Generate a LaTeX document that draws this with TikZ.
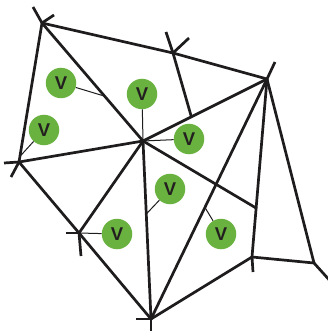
\documentclass[tikz,border=0pt]{standalone}
\usepackage{fontspec}
\setmainfont{Liberation Sans}
\usetikzlibrary{calc}
\definecolor{linec}{RGB}{30,28,29}
\definecolor{vgreen}{RGB}{106,178,64}
\definecolor{textc}{RGB}{35,31,32}
\begin{document}
\begin{tikzpicture}[x=1pt,y=-1pt,
  edge/.style={line width=2.7pt, draw=linec, line cap=round},
  stub/.style={line width=2.7pt, draw=linec, line cap=butt},
  conn/.style={line width=1pt, draw=linec},
  vnode/.style={circle, fill=vgreen, minimum size=30.5pt, inner sep=0pt,
    font=\bfseries\fontsize{18.5}{18.5}\selectfont, text=textc}]
\useasboundingbox (0,0) rectangle (328,331);
\clip (0,0) rectangle (328,331);
% vertices
\coordinate (A) at (42,23);
\coordinate (B) at (19,162);
\coordinate (C) at (143,141);
\coordinate (D) at (267,79);
\coordinate (E) at (173,53);
\coordinate (F) at ($(C)!0.39!(D)$);
\coordinate (G) at (151,319);
\coordinate (H) at (79,233);
\coordinate (I) at (252,257);
\coordinate (J) at (314,263);
\coordinate (L) at ($(D)!0.725!(I)$);
\coordinate (Jend) at (332,283);
% stub ends
\coordinate (a1) at (33,7);
\coordinate (a2) at (54,15);
\coordinate (b1) at (4,163);
\coordinate (b2) at (11,177);
\coordinate (e1) at (166,32);
\coordinate (e2) at (189,38);
\coordinate (d1) at (275,62);
\coordinate (h1) at (66,233);
\coordinate (h2) at (81,256);
\coordinate (g1) at (136,319);
\coordinate (g2) at (151,332);
\coordinate (i1) at (253,272);
% edges
\draw[edge] (A) -- (E);
\draw[edge] (E) -- (D);
\draw[edge] (A) -- (B);
\draw[edge] (A) -- (C);
\draw[edge] (B) -- (C);
\draw[edge] (C) -- (D);
\draw[edge] (E) -- (F);
\draw[edge] (D) -- (J);
\draw[edge] (J) -- (Jend);
\draw[edge] (D) -- (I);
\draw[edge] (D) -- (G);
\draw[edge] (I) -- (G);
\draw[edge] (I) -- (J);
\draw[edge] (C) -- (L);
\draw[edge] (C) -- (G);
\draw[edge] (C) -- (H);
\draw[edge] (B) -- (H);
\draw[edge] (H) -- (G);
% stubs
\draw[stub] (A) -- (a1);
\draw[stub] (A) -- (a2);
\draw[stub] (B) -- (b1);
\draw[stub] (B) -- (b2);
\draw[stub] (E) -- (e1);
\draw[stub] (E) -- (e2);
\draw[stub] (D) -- (d1);
\draw[stub] (H) -- (h1);
\draw[stub] (H) -- (h2);
\draw[stub] (G) -- (g1);
\draw[stub] (G) -- (g2);
\draw[stub] (I) -- (i1);
% connector targets
\coordinate (p1) at ($(A)!0.62!(C)$);
\coordinate (p3) at ($(A)!0.96!(B)$);
\coordinate (p5) at ($(C)!0.41!(G)$);
\coordinate (p7) at ($(D)!0.535!(G)$);
% V nodes
\node[vnode] (v1) at (61,83) {V};
\node[vnode] (v2) at (142,94) {V};
\node[vnode] (v3) at (44,130) {V};
\node[vnode] (v4) at (189,139) {V};
\node[vnode] (v5) at (170,189) {V};
\node[vnode] (v6) at (117,234) {V};
\node[vnode] (v7) at (221,234) {V};
% connectors
\draw[conn] (v1) -- (p1);
\draw[conn] (v2) -- (C);
\draw[conn] (v3) -- (p3);
\draw[conn] (v4) -- (C);
\draw[conn] (v5) -- (p5);
\draw[conn] (v6) -- (H);
\draw[conn] (v7) -- (p7);
\end{tikzpicture}
\end{document}
